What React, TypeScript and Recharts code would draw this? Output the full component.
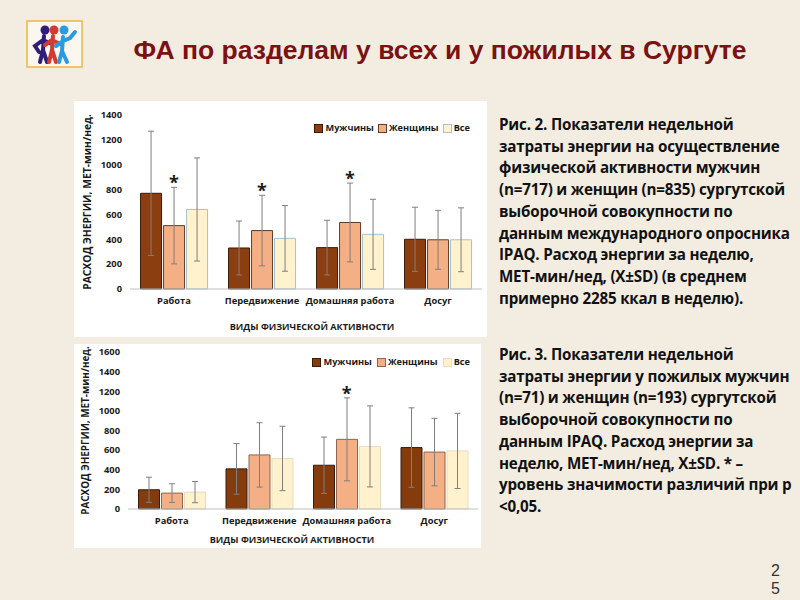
import React from 'react';
import {
  ComposedChart,
  Bar,
  ErrorBar,
  XAxis,
  YAxis,
  ReferenceDot,
} from 'recharts';

// Виды физической активности
const categories = ['Работа', 'Передвижение', 'Домашняя работа', 'Досуг'];
const seriesNames = ['Мужчины', 'Женщины', 'Все'];

// Рис. 2 — все (n=717 / n=835)
const allMen = [770, 330, 333, 400];
const allMenSd = [500, 217, 220, 258];
const allWomen = [510, 470, 535, 396];
const allWomenSd = [308, 284, 317, 237];
const allTotal = [640, 407, 440, 396];
const allTotalSd = [415, 264, 282, 257];
const allStars = [true, true, true, false];
const allTicks = [0, 200, 400, 600, 800, 1000, 1200, 1400];

// Рис. 3 — пожилые (n=71 / n=193)
const oldMen = [196, 409, 446, 626];
const oldMenSd = [128, 258, 287, 405];
const oldWomen = [162, 551, 710, 580];
const oldWomenSd = [95, 328, 423, 344];
const oldTotal = [172, 515, 638, 592];
const oldTotalSd = [108, 328, 413, 383];
const oldStars = [false, false, true, false];
const oldTicks = [0, 200, 400, 600, 800, 1000, 1200, 1400, 1600];

const caption2 = [
  'Рис. 2. Показатели недельной',
  'затраты энергии на осуществление',
  'физической активности мужчин',
  '(n=717) и женщин (n=835) сургутской',
  'выборочной совокупности по',
  'данным международного опросника',
  'IPAQ. Расход энергии за неделю,',
  'МЕТ-мин/нед, (X±SD) (в среднем',
  'примерно 2285 ккал в неделю).',
];
const caption3 = [
  'Рис. 3. Показатели недельной',
  'затраты энергии у пожилых мужчин',
  '(n=71) и женщин (n=193) сургутской',
  'выборочной совокупности по',
  'данным IPAQ. Расход энергии за',
  'неделю, МЕТ-мин/нед, X±SD. * –',
  'уровень значимости различий при р',
  '<0,05.',
];

const FONT = '"Open Sans", "Noto Sans", sans-serif';
const INK = '#1a1a1a';

type Palette = { fill: string; stroke: string }[];

const topPalette: Palette = [
  { fill: '#8b3f10', stroke: '#3b1a08' },
  { fill: '#f4b084', stroke: '#5e3d2c' },
  { fill: '#fff2cc', stroke: '#a6c2cd' },
];
const bottomPalette: Palette = [
  { fill: '#843c0c', stroke: '#3b1a08' },
  { fill: '#f4b084', stroke: '#8d6450' },
  { fill: '#fff2cc', stroke: '#e6dcc2' },
];

function buildRows(m: number[], ms: number[], w: number[], ws: number[], t: number[], ts: number[]) {
  return categories.map((name, i) => ({
    name,
    m: m[i],
    mSd: ms[i],
    w: w[i],
    wSd: ws[i],
    t: t[i],
    tSd: ts[i],
  }));
}

function LegendBox({ palette, top, right, gap }: { palette: Palette; top: number; right: number; gap: number }) {
  return (
    <div
      style={{
        position: 'absolute',
        top,
        right,
        display: 'flex',
        gap,
        fontFamily: FONT,
        fontWeight: 700,
        fontSize: 9.2,
        color: INK,
        lineHeight: '12px',
      }}
    >
      {seriesNames.map((n, i) => (
        <div key={n} style={{ display: 'flex', alignItems: 'center', gap: 2 }}>
          <span
            style={{
              display: 'inline-block',
              width: 7,
              height: 7,
              background: palette[i].fill,
              border: `1px solid ${palette[i].stroke}`,
            }}
          />
          <span>{n}</span>
        </div>
      ))}
    </div>
  );
}

const Star = (p: any) => (
  <text x={p.cx} y={p.cy + 2} textAnchor="middle" fontSize={18} fontWeight={700} fontFamily={FONT} fill={INK}>
    *
  </text>
);

interface PanelProps {
  width: number;
  height: number;
  margin: { top: number; right: number; left: number; bottom: number };
  yWidth: number;
  ticks: number[];
  rows: ReturnType<typeof buildRows>;
  stars: boolean[];
  palette: Palette;
  xHeight: number;
  yLabelOffset: number;
  xLabelOffset: number;
  xLabelDx: number;
  yLabelSize: number;
}

function Panel(p: PanelProps) {
  const tickStyle = { fill: INK, fontSize: 9.3, fontWeight: 700, fontFamily: FONT };
  const labelStyle = { fill: INK, fontSize: 9.1, fontWeight: 700, fontFamily: FONT };
  return (
    <ComposedChart
      width={p.width}
      height={p.height}
      data={p.rows}
      margin={p.margin}
      barGap={2}
      barCategoryGap="12%"
    >
      <XAxis
        dataKey="name"
        tickLine={false}
        axisLine={{ stroke: '#bfbfbf' }}
        height={p.xHeight}
        interval={0}
        tick={{ ...tickStyle, fontSize: 9.3 }}
        label={{
          value: 'ВИДЫ ФИЗИЧЕСКОЙ АКТИВНОСТИ',
          position: 'insideBottom',
          offset: p.xLabelOffset,
          dx: p.xLabelDx,
          style: labelStyle,
        }}
      />
      <YAxis
        width={p.yWidth}
        domain={[p.ticks[0], p.ticks[p.ticks.length - 1]]}
        ticks={p.ticks}
        interval={0}
        tickLine={false}
        axisLine={false}
        tick={tickStyle}
        label={{
          value: 'РАСХОД ЭНЕРГИИ, МЕТ-мин/нед.',
          angle: -90,
          position: 'insideLeft',
          offset: p.yLabelOffset,
          style: { ...labelStyle, fontSize: p.yLabelSize, textAnchor: 'middle' },
        }}
      />
      <Bar dataKey="m" name={seriesNames[0]} fill={p.palette[0].fill} stroke={p.palette[0].stroke} isAnimationActive={false}>
        <ErrorBar dataKey="mSd" width={3} stroke="#7f7f7f" strokeWidth={1} />
      </Bar>
      <Bar dataKey="w" name={seriesNames[1]} fill={p.palette[1].fill} stroke={p.palette[1].stroke} isAnimationActive={false}>
        <ErrorBar dataKey="wSd" width={3} stroke="#7f7f7f" strokeWidth={1} />
      </Bar>
      <Bar dataKey="t" name={seriesNames[2]} fill={p.palette[2].fill} stroke={p.palette[2].stroke} isAnimationActive={false}>
        <ErrorBar dataKey="tSd" width={3} stroke="#7f7f7f" strokeWidth={1} />
      </Bar>
      {p.rows.map((r, i) =>
        p.stars[i] ? (
          <ReferenceDot key={r.name} x={r.name} y={r.w + r.wSd} r={0} shape={Star} />
        ) : null
      )}
    </ComposedChart>
  );
}

function Logo() {
  return (
    <svg width={58} height={49} style={{ position: 'absolute', left: 26, top: 20 }}>
      <rect x={1} y={1} width={55} height={46} fill="#fbf6ee" stroke="#f0b443" strokeWidth={1.5} />
      {/* фигурки */}
      <g strokeLinecap="round" fill="none">
        <g stroke="#2d1e7a" strokeWidth={4}>
          <path d="M18 16 L17 30 L14 42 M17 30 L21 42 M17 20 L9 26 L13 32 M17 20 L26 24" />
        </g>
        <circle cx={19} cy={10} r={4.5} fill="#2d1e7a" />
        <g stroke="#d43a2f" strokeWidth={4}>
          <path d="M27 16 L26 30 L23 42 M26 30 L30 42 M26 20 L19 25 M26 20 L34 24" />
        </g>
        <circle cx={28} cy={10} r={4.5} fill="#d43a2f" />
        <g stroke="#2a9be0" strokeWidth={4}>
          <path d="M37 17 L36 31 L33 42 M36 31 L41 42 M37 21 L30 26 M37 21 L44 18 L49 12" />
        </g>
        <circle cx={38} cy={10} r={4.5} fill="#2a9be0" />
      </g>
    </svg>
  );
}

function Caption({ lines, top }: { lines: string[]; top: number }) {
  return (
    <div
      style={{
        position: 'absolute',
        left: 499,
        top,
        fontFamily: FONT,
        fontWeight: 700,
        fontSize: 15.2,
        lineHeight: '21.7px',
        letterSpacing: -0.2,
        color: '#111',
        whiteSpace: 'nowrap',
      }}
    >
      {lines.map((l) => (
        <div key={l}>{l}</div>
      ))}
    </div>
  );
}

export default function App() {
  const rowsAll = buildRows(allMen, allMenSd, allWomen, allWomenSd, allTotal, allTotalSd);
  const rowsOld = buildRows(oldMen, oldMenSd, oldWomen, oldWomenSd, oldTotal, oldTotalSd);
  return (
    <div
      style={{
        position: 'absolute',
        left: 0,
        top: 0,
        width: 800,
        height: 600,
        background: '#f3ede1',
        overflow: 'hidden',
      }}
    >
      <Logo />
      <div
        style={{
          position: 'absolute',
          left: 0,
          width: 880,
          top: 34,
          textAlign: 'center',
          fontFamily: '"Liberation Sans", Arial, sans-serif',
          fontWeight: 700,
          fontSize: 26.5,
          lineHeight: '32px',
          color: '#7c1111',
        }}
      >
        ФА по разделам у всех и у пожилых в Сургуте
      </div>

      <div style={{ position: 'absolute', left: 74, top: 101, width: 413, height: 236, background: '#ffffff' }}>
        <Panel
          width={413}
          height={236}
          margin={{ top: 14, right: 5, left: 0, bottom: 0 }}
          yWidth={56}
          ticks={allTicks}
          rows={rowsAll}
          stars={allStars}
          palette={topPalette}
          xHeight={48}
          yLabelOffset={13}
          xLabelOffset={7}
          xLabelDx={6}
          yLabelSize={10.3}
        />
        <LegendBox palette={topPalette} top={21} right={17} gap={4} />
      </div>

      <div style={{ position: 'absolute', left: 74, top: 344, width: 407, height: 204, background: '#ffffff' }}>
        <Panel
          width={407}
          height={204}
          margin={{ top: 8, right: 3, left: 0, bottom: 0 }}
          yWidth={54}
          ticks={oldTicks}
          rows={rowsOld}
          stars={oldStars}
          palette={bottomPalette}
          xHeight={39}
          yLabelOffset={11}
          xLabelOffset={5}
          xLabelDx={-11}
          yLabelSize={9.9}
        />
        <LegendBox palette={bottomPalette} top={12} right={11} gap={5} />
      </div>

      <Caption lines={caption2} top={114} />
      <Caption lines={caption3} top={344} />

      <div
        style={{
          position: 'absolute',
          left: 771,
          top: 562,
          fontFamily: '"Liberation Sans", Arial, sans-serif',
          fontSize: 16,
          lineHeight: '18px',
          color: '#333',
        }}
      >
        <div>2</div>
        <div>5</div>
      </div>
    </div>
  );
}
